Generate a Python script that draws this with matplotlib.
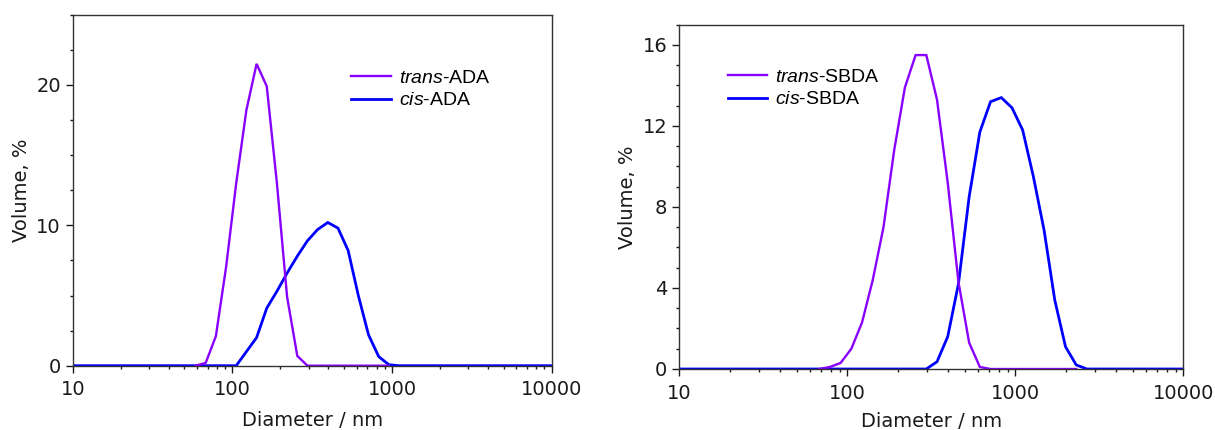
import matplotlib
matplotlib.use("Agg")
import matplotlib.pyplot as plt
from matplotlib.ticker import MultipleLocator, LogLocator, NullFormatter

# Size classes of the DLS instrument (nm)
diameter = [10.1, 11.7, 13.54, 15.69, 18.17, 21.04, 24.36, 28.21, 32.67, 37.84,
            43.82, 50.75, 58.77, 68.06, 78.82, 91.28, 105.7, 122.4, 141.8, 164.2,
            190.1, 220.2, 255.0, 295.3, 342.0, 396.1, 458.7, 531.2, 615.1, 712.4,
            825.0, 955.4, 1106, 1281, 1484, 1718, 1990, 2305, 2669, 3091,
            3580, 4145, 4801, 5560, 6439, 7456, 8635, 10000]

# ADA: trans form (58.77 ... 955.4 nm)
ada_trans_d = [58.77, 68.06, 78.82, 91.28, 105.7, 122.4, 141.8, 164.2, 190.1,
               220.2, 255.0, 295.3, 342.0, 396.1, 458.7, 531.2, 615.1, 712.4,
               825.0, 955.4]
ada_trans_v = [0.0, 0.2, 2.1, 7.0, 13.0, 18.2, 21.5, 19.9, 13.0,
               4.9, 0.7, 0.0, 0.0, 0.0, 0.0, 0.0, 0.0, 0.0,
               0.0, 0.0]

# ADA: cis form (full range)
ada_cis_v = [0.0] * 16 + [0.0, 1.0, 2.0, 4.1, 5.3, 6.6, 7.8, 8.9, 9.7, 10.2,
                          9.8, 8.2, 5.0, 2.2, 0.65, 0.07, 0.0] + [0.0] * 15

# SBDA: trans form (68.06 ... 2305 nm)
sbda_trans_d = [68.06, 78.82, 91.28, 105.7, 122.4, 141.8, 164.2, 190.1, 220.2,
                255.0, 295.3, 342.0, 396.1, 458.7, 531.2, 615.1, 712.4, 825.0,
                955.4, 1106, 1281, 1484, 1718, 1990, 2305]
sbda_trans_v = [0.0, 0.1, 0.3, 1.0, 2.3, 4.4, 7.0, 10.8, 13.9,
                15.5, 15.5, 13.3, 9.2, 4.3, 1.3, 0.1, 0.0, 0.0,
                0.0, 0.0, 0.0, 0.0, 0.0, 0.0, 0.0]

# SBDA: cis form (full range)
sbda_cis_v = [0.0] * 23 + [0.0, 0.36, 1.6, 4.2, 8.5, 11.7, 13.2, 13.4, 12.9,
                           11.8, 9.5, 6.85, 3.4, 1.1, 0.2, 0.0] + [0.0] * 9

x_ticks = [10, 100, 1000, 10000]
x_ticklabels = ["10", "100", "1000", "10000"]

trans_color = "#8a00ff"
cis_color = "#0000ff"
ink = "#1a1a1a"

plt.rcParams["font.family"] = ["DejaVu Sans"]
plt.rcParams["mathtext.fontset"] = "custom"
plt.rcParams["mathtext.rm"] = "Liberation Sans"
plt.rcParams["mathtext.it"] = "Liberation Sans:italic"

W, H = 1215, 430
fig = plt.figure(figsize=(W / 100, H / 100), dpi=100)


def frame(px0, py0, px1, py1):
    return [px0 / W, 1 - py1 / H, (px1 - px0) / W, (py1 - py0) / H]


ax1 = fig.add_axes(frame(72.7, 14.7, 551.7, 365.7))
ax2 = fig.add_axes(frame(679.3, 24.7, 1183.3, 369.0))


def style(ax, ylim, major, minor, xlabelpad):
    ax.set_xscale("log")
    ax.set_xlim(10, 10000)
    ax.set_ylim(*ylim)
    ax.set_xticks(x_ticks)
    ax.set_xticklabels(x_ticklabels)
    ax.xaxis.set_minor_locator(LogLocator(base=10, subs=range(2, 10)))
    ax.xaxis.set_minor_formatter(NullFormatter())
    ax.yaxis.set_major_locator(MultipleLocator(major))
    ax.yaxis.set_minor_locator(MultipleLocator(minor))
    ax.tick_params(which="both", direction="out", top=False, right=False,
                   color=ink, width=1.0, labelsize=14, labelcolor=ink)
    ax.tick_params(axis="x", which="major", length=5, pad=5.5)
    ax.tick_params(axis="y", which="major", length=5)
    ax.tick_params(which="minor", length=2.5)
    for s in ax.spines.values():
        s.set_color("#333333")
        s.set_linewidth(1.0)
    ax.set_xlabel("Diameter / nm", fontsize=14, color=ink, labelpad=xlabelpad)
    ax.set_ylabel("Volume, %", fontsize=14, color=ink, labelpad=4)


style(ax1, (0, 25), 10, 2.5, 8.5)
style(ax2, (0, 17), 4, 1, 6.5)

l1c, = ax1.plot(diameter, ada_cis_v, color=cis_color, lw=2.0, solid_joinstyle="miter")
l1t, = ax1.plot(ada_trans_d, ada_trans_v, color=trans_color, lw=1.7, solid_joinstyle="miter")
l2c, = ax2.plot(diameter, sbda_cis_v, color=cis_color, lw=2.0, solid_joinstyle="miter")
l2t, = ax2.plot(sbda_trans_d, sbda_trans_v, color=trans_color, lw=1.7, solid_joinstyle="miter")

leg_font = {"family": "Liberation Sans", "size": 14}
ax1.legend([l1t, l1c], [r"$\mathit{trans}$-ADA", r"$\mathit{cis}$-ADA"],
           loc="upper left", bbox_to_anchor=(351 / W, 1 - 69 / H),
           bbox_transform=fig.transFigure, frameon=False, prop=leg_font,
           handlelength=2.05, handletextpad=0.4, labelspacing=0.27,
           borderpad=0, borderaxespad=0)
ax2.legend([l2t, l2c], [r"$\mathit{trans}$-SBDA", r"$\mathit{cis}$-SBDA"],
           loc="upper left", bbox_to_anchor=(727.5 / W, 1 - 68 / H),
           bbox_transform=fig.transFigure, frameon=False, prop=leg_font,
           handlelength=2.05, handletextpad=0.4, labelspacing=0.27,
           borderpad=0, borderaxespad=0)

fig.savefig("out.png", dpi=100)
